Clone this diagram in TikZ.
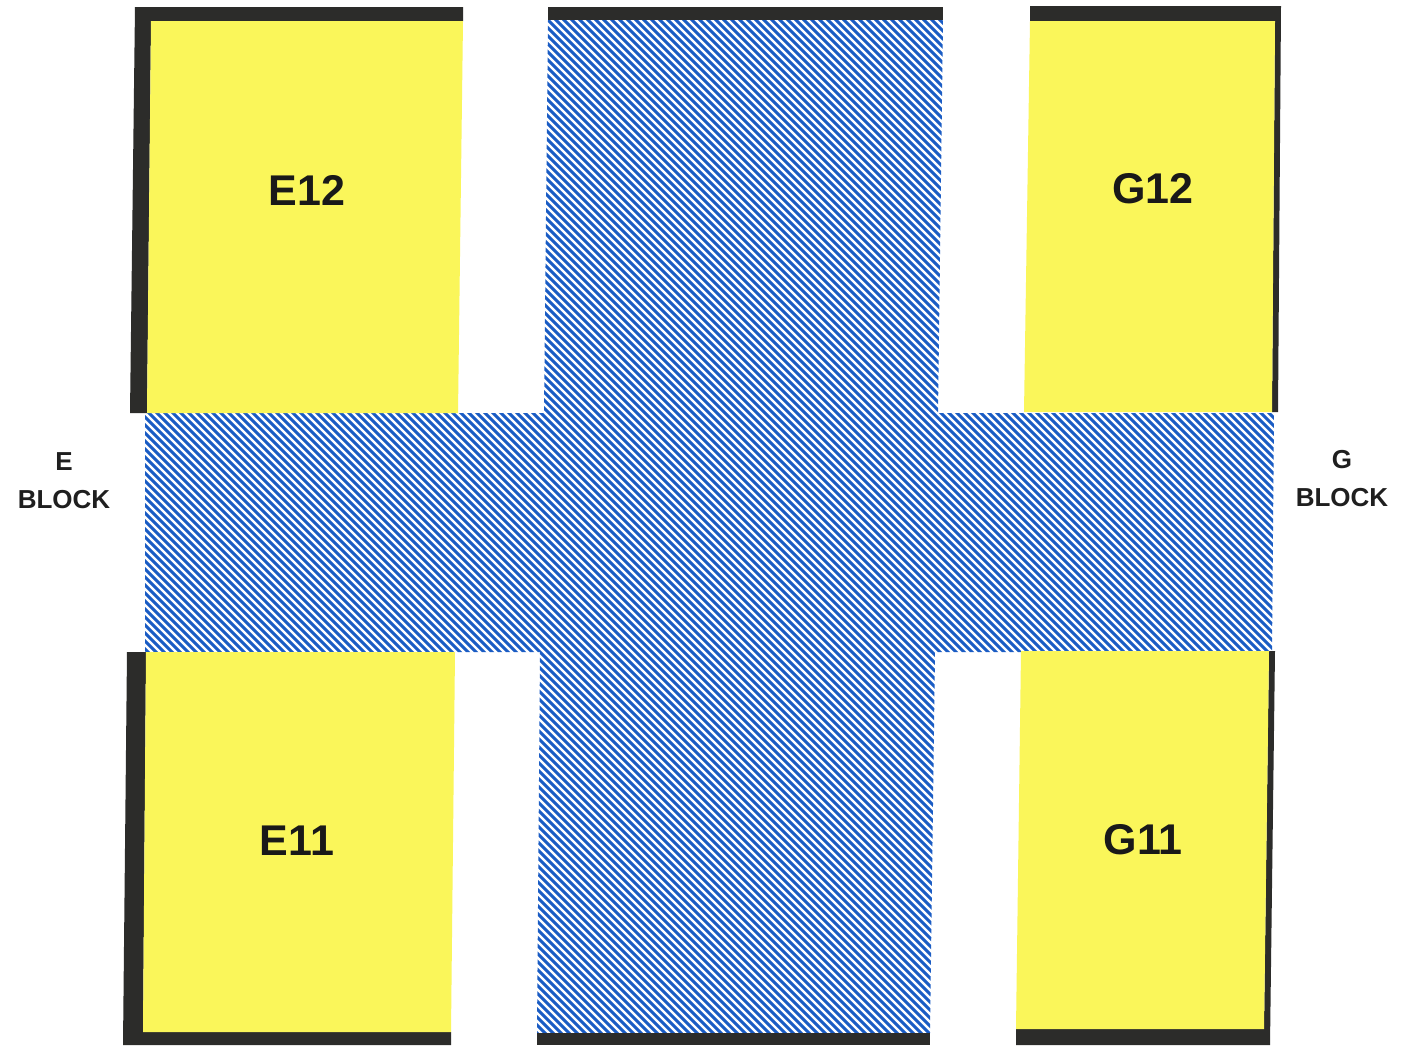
\documentclass[tikz,border=0pt]{standalone}
\usepackage{fontspec}
\setmainfont{Liberation Sans}
\definecolor{darkbar}{RGB}{44,44,42}
\definecolor{padyellow}{RGB}{250,246,90}
\definecolor{hatchblue}{RGB}{26,92,196}
\begin{document}
\begin{tikzpicture}[x=1pt,y=-1pt,
  padlabel/.style={inner sep=0pt,font=\fontsize{43}{50}\selectfont\bfseries,text=black!90},
  blocklabel/.style={inner sep=0pt,align=center,font=\fontsize{26}{38}\selectfont\bfseries,text=black!88},
  darkfill/.style={fill=darkbar,draw=none},
  yellowfill/.style={fill=padyellow,draw=none}]
\useasboundingbox (0,0) rectangle (1401,1045);
\fill[white] (0,0) rectangle (1401,1045);

% cross (hatched)
\begin{scope}
\clip (548,20) -- (943,20) -- (938,413) -- (1274,413) -- (1272,652) -- (935,652)
  -- (930,1033) -- (537,1033) -- (540,652) -- (145,652) -- (145,413) -- (544,413) -- cycle;
\fill[white] (100,0) rectangle (1300,1045);
\foreach \k in {-960,-952,...,1310}
  \draw[hatchblue,line width=3.1pt] (\k,0) -- ({\k+1100},1100);
\end{scope}
\fill[darkfill] (548,7) -- (943,7) -- (943,20) -- (548,20) -- cycle;
\fill[darkfill] (537,1033) -- (930,1033) -- (930,1045) -- (537,1045) -- cycle;

% E12
\fill[darkfill] (135,7) -- (463,7) -- (463,21) -- (151,21) -- (147,413) -- (130,413) -- cycle;
\fill[yellowfill] (151,21) -- (463,21) -- (458,413) -- (147,413) -- cycle;
% G12
\fill[darkfill] (1030,6) -- (1281,6) -- (1278,412) -- (1272,412) -- (1275,21) -- (1030,21) -- cycle;
\fill[yellowfill] (1030,21) -- (1275,21) -- (1272,412) -- (1024,412) -- cycle;
% E11
\fill[darkfill] (127,652) -- (146,652) -- (143,1032) -- (451,1032) -- (451,1045) -- (123,1045) -- cycle;
\fill[yellowfill] (146,652) -- (455,652) -- (451,1032) -- (143,1032) -- cycle;
% G11
\fill[darkfill] (1269,651) -- (1275,651) -- (1270,1045) -- (1016,1045) -- (1016,1029) -- (1264,1029) -- cycle;
\fill[yellowfill] (1021,651) -- (1269,651) -- (1264,1029) -- (1016,1029) -- cycle;

\node[padlabel] (e12) at (307,190) {E12};
\node[padlabel] (g12) at (1153,189) {G12};
\node[padlabel] (e11) at (297,841) {E11};
\node[padlabel] (g11) at (1143,840) {G11};
\node[blocklabel] (eblock) at (64,481) {E\\BLOCK};
\node[blocklabel] (gblock) at (1342,479) {G\\BLOCK};
\end{tikzpicture}
\end{document}
